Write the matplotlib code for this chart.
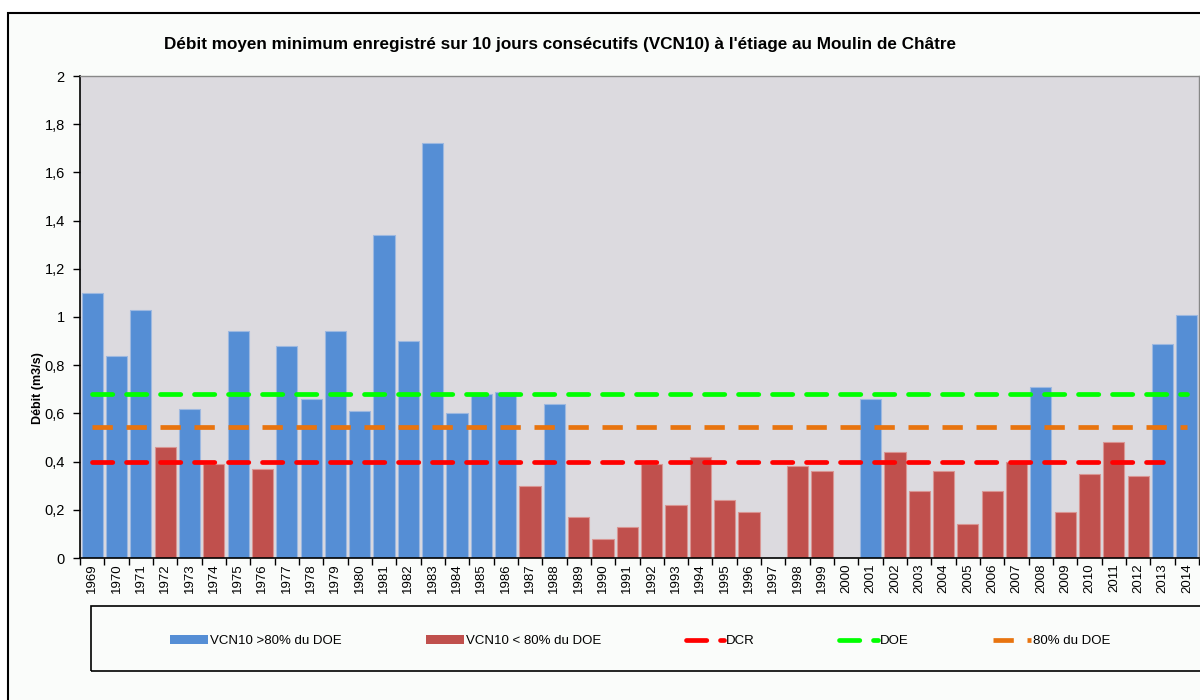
import numpy as np
import matplotlib
matplotlib.use("Agg")
import matplotlib.pyplot as plt
from matplotlib.lines import Line2D
from matplotlib.patches import Patch, Rectangle
from matplotlib.ticker import FuncFormatter

plt.rcParams["font.family"] = ["Liberation Sans", "DejaVu Sans"]

# --- data ---
years = list(range(1969, 2015))
vcn10 = [1.10, 0.84, 1.03, 0.46, 0.62, 0.39, 0.94, 0.37, 0.88, 0.66,
         0.94, 0.61, 1.34, 0.90, 1.72, 0.60, 0.68, 0.69, 0.30, 0.64,
         0.17, 0.08, 0.13, 0.39, 0.22, 0.42, 0.24, 0.19, 0.0, 0.38,
         0.36, 0.0, 0.66, 0.44, 0.28, 0.36, 0.14, 0.28, 0.40, 0.71,
         0.19, 0.35, 0.48, 0.34, 0.89, 1.01]
# True where VCN10 > 80% of DOE (blue bars)
above = [True, True, True, False, True, False, True, False, True, True,
         True, True, True, True, True, True, True, True, False, True,
         False, False, False, False, False, False, False, False, False, False,
         False, False, True, False, False, False, False, False, False, True,
         False, False, False, False, True, True]
doe = 0.68
doe80 = 0.545
dcr = 0.40
dcr_last_year = 2013

title = ("Débit moyen minimum enregistré sur 10 jours consécutifs (VCN10) "
         "à l'étiage au Moulin de Châtre")
legend_labels = ["VCN10 >80% du DOE", "VCN10 < 80% du DOE", "DCR", "DOE",
                 "80% du DOE"]

BLUE = "#558ED5"
RED = "#C0504D"
C_DCR = "#FF0000"
C_DOE = "#00FF00"
C_80 = "#E8740F"
DASH = (4.3, 2.9)

fig = plt.figure(figsize=(12, 7), dpi=100)
fig.patch.set_facecolor("white")

# outer chart frame (runs off the right/bottom of the picture)
frame = Rectangle((8 / 1200, -0.05), 1.1, 1 - 13 / 700 + 0.05,
                  transform=fig.transFigure, facecolor="#FAFCFA",
                  edgecolor="black", linewidth=1.5, zorder=-10)
fig.patches.append(frame)

ax = fig.add_axes([80 / 1200, 1 - 558 / 700, 1119 / 1200, 482 / 700])
ax.set_facecolor("#DCDADF")

x = np.arange(len(years))
colors = [BLUE if a else RED for a in above]
edges = ["#9DB8E0" if a else "#D99593" for a in above]
ax.bar(x, vcn10, width=0.87, color=colors, edgecolor=edges, linewidth=0.8,
       zorder=2)

n_dcr = years.index(dcr_last_year) + 1
ax.plot(x[:n_dcr], [dcr] * n_dcr, color=C_DCR, lw=3.4, dashes=DASH,
        dash_capstyle="round", zorder=3)
ax.plot(x, [doe80] * len(x), color=C_80, lw=3.4, dashes=DASH,
        dash_capstyle="butt", zorder=3)
ax.plot(x, [doe] * len(x), color=C_DOE, lw=3.4, dashes=DASH,
        dash_capstyle="round", zorder=3)

ax.set_xlim(-0.5, len(years) - 0.5)
ax.set_ylim(0, 2)
ax.set_yticks(np.arange(0, 2.01, 0.2))
ax.yaxis.set_major_formatter(
    FuncFormatter(lambda v, _: f"{v:g}".replace(".", ",")))
ax.set_xticks(x)
ax.set_xticklabels([str(y) for y in years], rotation=90, fontsize=9.5)
ax.set_xticks(np.arange(-0.5, len(years)), minor=True)
ax.tick_params(axis="x", which="major", length=0, pad=4)
ax.tick_params(axis="x", which="minor", length=5, width=1, direction="out")
ax.tick_params(axis="y", length=5, width=1, labelsize=10.5, pad=6)

for s in ["left", "bottom"]:
    ax.spines[s].set_color("black")
    ax.spines[s].set_linewidth(1.2)
for s in ["top", "right"]:
    ax.spines[s].set_color("#888888")
    ax.spines[s].set_linewidth(1)

fig.text(560 / 1200, 1 - 45 / 700, title, ha="center", va="center",
         fontsize=12.3, fontweight="bold")
fig.text(38 / 1200, 1 - 388 / 700, "Débit (m3/s)", rotation=90,
         ha="center", va="center", fontsize=9, fontweight="bold")

# legend box
box = Rectangle((91 / 1200, 1 - 671 / 700), 1.1, 65 / 700,
                transform=fig.transFigure, facecolor="none",
                edgecolor="black", linewidth=1.2, zorder=5)
fig.patches.append(box)

handles = [
    Patch(facecolor=BLUE, edgecolor="none"),
    Patch(facecolor=RED, edgecolor="none"),
    Line2D([], [], color=C_DCR, lw=3.4, dashes=DASH, dash_capstyle="round"),
    Line2D([], [], color=C_DOE, lw=3.4, dashes=DASH, dash_capstyle="round"),
    Line2D([], [], color=C_80, lw=3.4, dashes=DASH, dash_capstyle="butt"),
]
fig.legend(handles, legend_labels, loc="center",
           bbox_to_anchor=(640 / 1200, 1 - 641 / 700), ncol=5,
           frameon=False, fontsize=9.5, handlelength=2.9, handleheight=0.7,
           handletextpad=0.15, columnspacing=6.4)

fig.savefig("out.png", dpi=100)
